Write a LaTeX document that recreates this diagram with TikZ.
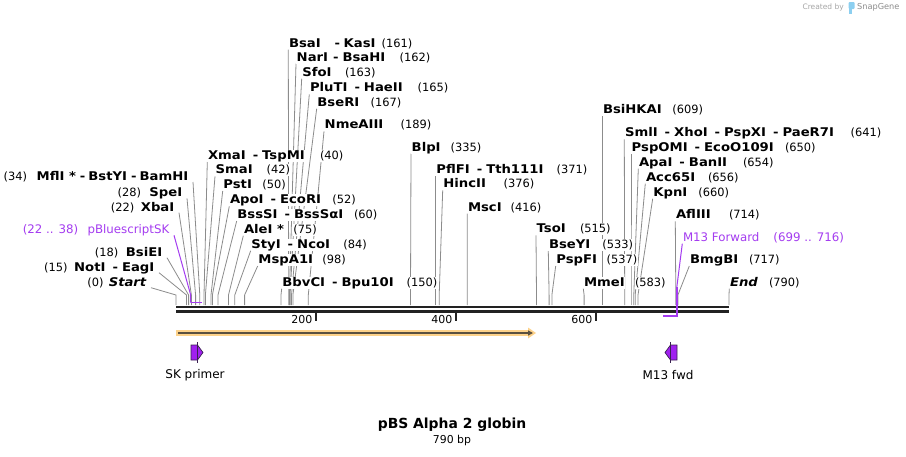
\documentclass[tikz,border=0pt]{standalone}
\usepackage{fontspec}
\setmainfont{DejaVu Sans}
\newfontfamily\enzfont[FakeStretch=1.1]{DejaVu Sans}
\usetikzlibrary{calc,arrows.meta}
\pgfdeclarelayer{bg}
\pgfsetlayers{bg,main}

\definecolor{cutgray}{HTML}{8C8C8C}
\definecolor{featpurple}{HTML}{A43CF0}
\definecolor{primerfill}{HTML}{A020F0}
\definecolor{primerline}{HTML}{3A2050}
\definecolor{cdsorange}{HTML}{FDD28A}
\definecolor{cdsline}{HTML}{5A5040}
\definecolor{bardark}{HTML}{222222}
\definecolor{logoblue}{HTML}{8CCFF0}

\tikzset{
  enz/.style={font=\enzfont\bfseries\fontsize{12}{12}\selectfont, fill=white,
    inner xsep=0.5pt, inner ysep=0.5pt, text height=9pt, text depth=2pt},
  num/.style={font=\fontsize{11.4}{12}\selectfont, fill=white,
    inner xsep=0.5pt, inner ysep=0.5pt, text height=9pt, text depth=2pt},
  feat/.style={font=\fontsize{11.8}{12}\selectfont, text=featpurple, fill=white,
    inner xsep=0.5pt, inner ysep=0.5pt, text height=9pt, text depth=2pt},
  cutln/.style={draw=cutgray, line width=0.8pt},
  featln/.style={draw=featpurple, line width=1.6pt},
  seqbar/.style={draw=bardark, line width=2.4pt},
  tickln/.style={draw=bardark, line width=1.5pt},
  ticklbl/.style={font=\fontsize{11}{12}\selectfont, inner sep=0pt},
  primer/.style={fill=primerfill, draw=primerline, line width=0.7pt, line join=miter},
  primerlbl/.style={font=\fontsize{12}{12}\selectfont, inner sep=0pt},
}

\newcommand\dsep{\hspace{7pt}-\hspace{4pt}}
\newcommand\nsep{\hspace{5pt}-\hspace{4pt}}
\newcommand\tsep{\hspace{4pt}-\hspace{3pt}}

% right-hand label: id, name, left x, y centre, number x, number, cut x
\newcommand\rlab[7]{%
  \node[enz, anchor=base west] (#1) at (#3,#4+4.3) {#2};
  \node[num, anchor=base west] (#1n) at (#5,#4+4.3) {(#6)};
  \coordinate (#1b) at (#7,305);
  \coordinate (#1k) at (#7,295);
  \begin{pgfonlayer}{bg}\draw[cutln] (#1b) -- (#1k) -- (#1.south west);\end{pgfonlayer}
}
% left-hand label: id, name, right x, y centre, number right x, number, cut x
\newcommand\llab[7]{%
  \node[enz, anchor=base east] (#1) at (#3,#4+4.3) {#2};
  \node[num, anchor=base east] (#1n) at (#5,#4+4.3) {(#6)};
  \coordinate (#1b) at (#7,305);
  \coordinate (#1k) at (#7,295);
  \begin{pgfonlayer}{bg}\draw[cutln] (#1b) -- (#1k) -- ($(#1.south east)+(4,-1)$);\end{pgfonlayer}
}

\begin{document}
\begin{tikzpicture}[x=1pt,y=-1pt]
\useasboundingbox (0,0) rectangle (906,456);
\begin{pgfonlayer}{bg}
\fill[white] (0,0) rectangle (906,456);
\end{pgfonlayer}

% watermark
\node[font=\fontsize{7.5}{8}\selectfont, text=black!35, anchor=east, inner sep=0pt] (wm1) at (844,7.5) {Created by};
\fill[logoblue, rounded corners=1pt] (848.5,2) rectangle (854.5,9);
\fill[logoblue] (848.5,8) rectangle (851.5,13.5);
\node[font=\fontsize{8.2}{9}\selectfont, text=black!45, anchor=west, inner sep=0pt] (wm2) at (857,7.5) {SnapGene};

% right-hand enzymes
\rlab{bsai}{BsaI\hspace{14pt}-\hspace{3.5pt}KasI}{288.3}{42.7}{381}{161}{288.7}
\rlab{nari}{NarI\nsep BsaHI}{296}{56.7}{399}{162}{289.4}
\rlab{sfoi}{SfoI}{301.7}{71.7}{344.3}{163}{290.1}
\rlab{pluti}{PluTI\dsep HaeII}{309.3}{87.3}{417}{165}{291.5}
\rlab{bseri}{BseRI}{316.7}{101.7}{370}{167}{292.9}
\rlab{nmeaiii}{NmeAIII}{324}{124.3}{400}{189}{308.3}
\rlab{xmai}{XmaI\dsep TspMI}{207.3}{155}{319.3}{40}{204}
\rlab{smai}{SmaI}{215}{169.3}{266}{42}{205.4}
\rlab{psti}{PstI}{222.7}{184}{261.7}{50}{211}
\rlab{apoi}{ApoI\dsep EcoRI}{229.3}{199.3}{331.7}{52}{212.4}
\rlab{bsssi}{BssSI\dsep BssSαI}{236.7}{214}{353.3}{60}{218}
\rlab{alei}{AleI *}{243.3}{228.7}{292.7}{75}{228.5}
\rlab{styi}{StyI\dsep NcoI}{250.7}{243.7}{342.7}{84}{234.8}
\rlab{mspai}{MspA1I}{257.7}{259}{321.7}{98}{244.6}
\rlab{bbvci}{BbvCI\dsep Bpu10I}{281.7}{281.7}{406}{150}{281}
\rlab{blpi}{BlpI}{411}{146.7}{450}{335}{410.5}
\rlab{pflfi}{PflFI\dsep Tth111I}{435.7}{169}{556}{371}{435.7}
\rlab{hincii}{HincII}{442.7}{183.3}{503}{376}{439.2}
\rlab{msci}{MscI}{467.3}{206.7}{510}{416}{467.2}
\rlab{tsoi}{TsoI}{536}{228.3}{579.3}{515}{536.5}
\rlab{bseyi}{BseYI}{548.3}{244}{601.7}{533}{549.1}
\rlab{pspfi}{PspFI}{555.7}{259}{606}{537}{551.9}
\rlab{mmei}{MmeI}{583.3}{281.7}{634.3}{583}{584.1}
\rlab{bsihkai}{BsiHKAI}{602.3}{109}{671.7}{609}{602.3}
\rlab{smli}{SmlI\dsep XhoI\dsep PspXI\dsep PaeR7I}{624.3}{132.3}{850}{641}{624.7}
\rlab{pspomi}{PspOMI\dsep EcoO109I}{631}{147.3}{784.3}{650}{631}
\rlab{apai}{ApaI\dsep BanII}{638.3}{161.7}{742.3}{654}{633.8}
\rlab{acci}{Acc65I}{645.3}{176.7}{707.3}{656}{635.2}
\rlab{kpni}{KpnI}{652.7}{191.7}{697.7}{660}{638}
\rlab{afliii}{AflIII}{675.3}{214.3}{728.3}{714}{675.8}
\rlab{bmgbi}{BmgBI}{689.3}{259}{748.3}{717}{677.9}
\rlab{endl}{\itshape End}{729.3}{281.7}{768.3}{790}{729}

% left-hand enzymes
\llab{startl}{\itshape Start}{147}{281.7}{104.3}{0}{176}
\llab{noti}{NotI\dsep EagI}{155}{266.7}{68.3}{15}{186.5}
\llab{bsiei}{BsiEI}{163}{251.7}{119}{18}{188.6}
\llab{xbai}{XbaI}{175}{206.7}{135}{22}{191.4}
\llab{spei}{SpeI}{183}{192.3}{141.7}{28}{195.6}
\llab{mfli}{MflI *\tsep BstYI\tsep BamHI}{189}{176}{27.7}{34}{199.8}

% sequence bar
\coordinate (topL) at (176,307.2); \coordinate (topR) at (729,307.2);
\coordinate (botL) at (176,311.6); \coordinate (botR) at (729,311.6);
\draw[seqbar] (topL) -- (topR);
\draw[seqbar] (botL) -- (botR);

% ticks
\foreach \tx/\tl in {316/200, 456/400, 596/600}{
  \coordinate (tk\tl) at (\tx,312.5);
  \draw[tickln] (tk\tl) -- ++(0,8);
  \node[ticklbl, anchor=base east] (tl\tl) at (\tx-3.5,323.2) {\tl};
}

% feature pBluescriptSK
\node[feat, anchor=base east] (pbs) at (170,233.6) {pBluescriptSK};
\node[feat, anchor=base east] (pbsn) at (79,233.6) {(22 .. 38)};
\coordinate (pbsk) at (190.7,295);
\coordinate (pbsa) at (190.7,302.5);
\coordinate (pbsz) at (202,302.5);
\draw[featln, line width=1pt] ($(pbs.south east)+(4,-1)$) -- (pbsk) -- (pbsa);
\draw[featln] (pbsa) -- (pbsz);

% feature M13 Forward
\node[feat, anchor=base west] (m13) at (682.3,241) {M13 Forward};
\node[feat, anchor=base west] (m13n) at (772.7,241) {(699 .. 716)};
\coordinate (m13k) at (676.7,288);
\coordinate (m13c) at (676.7,316);
\coordinate (m13e) at (664,316);
\draw[featln, line width=1pt] (m13.south west) -- (m13k);
\draw[featln, line cap=rect] (m13k) -- (m13c) -- (m13e);

% CDS arrow
\coordinate (cdsA) at (176,333);
\coordinate (cdsB) at (529,333);
\draw[draw=cdsorange, line width=6pt] (cdsA) -- (cdsB);
\fill[cdsorange] (528,327.5) -- (536,333) -- (528,338.5) -- cycle;
\draw[draw=cdsline, line width=1.5pt, -{Triangle[length=5pt,width=5pt]}] ($(cdsA)+(2,0)$) -- (533,333);

% primers
\filldraw[primer] (191,345) -- (197.5,345) -- (203,352.5) -- (197.5,360) -- (191,360) -- cycle;
\draw[primerline, line width=0.7pt] (197.5,342) -- (197.5,363);
\node[primerlbl] (skp) at (195,375) {SK primer};

\filldraw[primer] (677,345) -- (670.5,345) -- (665,352.5) -- (670.5,360) -- (677,360) -- cycle;
\draw[primerline, line width=0.7pt] (670.5,342) -- (670.5,363);
\node[primerlbl] (m13p) at (668,375) {M13 fwd};

% title
\node[font=\bfseries\fontsize{13.9}{14}\selectfont, inner sep=0pt] (title) at (452,425) {pBS Alpha 2 globin};
\node[font=\fontsize{10.9}{11}\selectfont, inner sep=0pt] (size) at (452,440) {790 bp};
\end{tikzpicture}
\end{document}
